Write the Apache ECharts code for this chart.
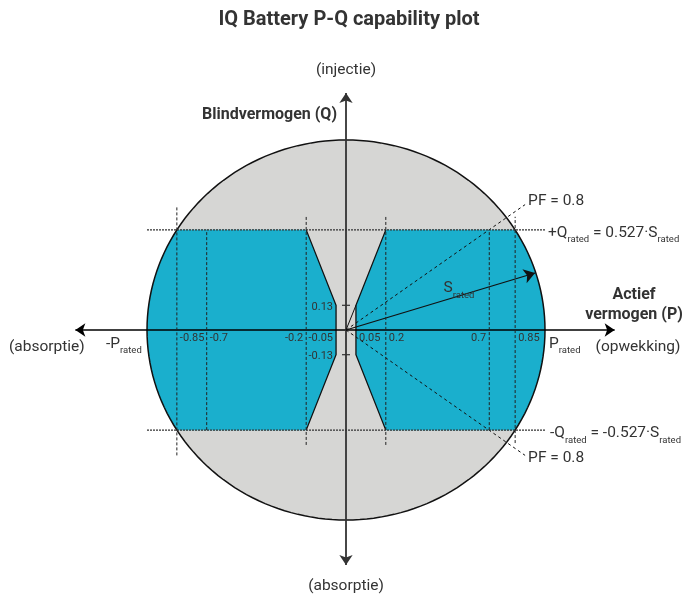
<!DOCTYPE html>
<html><head><meta charset="utf-8">
<script src="https://cdn.jsdelivr.net/npm/echarts@6/dist/echarts.min.js"></script>
<style>html,body{margin:0;padding:0;background:#fff}#c{width:686px;height:595px}</style>
</head><body><div id="c"></div>
<script>
// ---------- data (per unit of S_rated) ----------
const S_RATED = 1;
const Q_RATED = 0.527;
const INNER_P = 0.05;        // inner vertical edge of allowed region
const INNER_Q = 0.13;        // height of inner vertical edge
const DIAG_P = 0.2;          // diagonal edge reaches Q_rated here
const P_TICKS = [-0.85, -0.7, -0.2, -0.05, 0.05, 0.2, 0.72, 0.85];
const P_TICK_LABELS = ['-0.85', '-0.7', '-0.2', '-0.05', '0.05', '0.2', '0.7', '0.85'];
const P_LABEL_SIDE = ['r', 'r', 'l', 'l', 'r', 'r', 'l', 'r'];
const Q_TICKS = [0.13, -0.13];
const Q_TICK_LABELS = ['0.13', '-0.13'];
// dashed guide lines: [P, Q from, Q to]
const GUIDE_P = [-0.85, -0.7, -0.2, 0.2, 0.72, 0.85];
const GUIDE_Q_LOW = [-0.66, -0.527, -0.605, -0.605, -0.527, -0.595];
const GUIDE_Q_HIGH = [0.65, 0.527, 0.596, 0.596, 0.527, 0.596];
const QRATED_P_RANGE = [-1.0, 1.0];
const PF_END = [0.9, 0.66];
const S_ARROW_END = [0.95, 0.30];
const AXIS_P = [-1.36, 1.35];
const AXIS_Q = [-1.237, 1.247];

const BLUE = '#1aafcd', GRAY = '#d6d6d4', TXT = '#333';
const FONT = 'Roboto, "Noto Sans", sans-serif';

const chart = echarts.init(document.getElementById('c'), null, {renderer: 'canvas'});

function circlePts(api, t0, t1, n) {
  const pts = [];
  for (let i = 0; i <= n; i++) {
    const t = t0 + (t1 - t0) * i / n;
    pts.push(api.coord([S_RATED * Math.cos(t), S_RATED * Math.sin(t)]));
  }
  return pts;
}

const a0 = Math.asin(Q_RATED / S_RATED);

const option = {
  animation: false,
  backgroundColor: '#fff',
  grid: {left: 47.5, width: 597, top: 83, height: 494},
  xAxis: {type: 'value', min: -1.5, max: 1.5, show: false, splitLine: {show: false}},
  yAxis: {type: 'value', min: -1.3, max: 1.3, show: false, splitLine: {show: false}},
  series: [
    { // gray circle
      type: 'custom', z: 1, data: [[0, 0]],
      renderItem: (p, api) => ({type: 'polygon', shape: {points: circlePts(api, 0, Math.PI * 2, 180)},
        style: {fill: GRAY, stroke: null}})
    },
    { // blue allowed regions (right and left)
      type: 'custom', z: 2, data: [[1], [-1]],
      renderItem: (p, api) => {
        const s = api.value(0);
        const pts = [
          api.coord([s * INNER_P, -INNER_Q]),
          api.coord([s * INNER_P, INNER_Q]),
          api.coord([s * DIAG_P, Q_RATED])
        ];
        const arc = s > 0 ? circlePts(api, a0, -a0, 60) : circlePts(api, Math.PI - a0, Math.PI + a0, 60);
        pts.push(...arc);
        pts.push(api.coord([s * DIAG_P, -Q_RATED]));
        return {type: 'polygon', shape: {points: pts}, style: {fill: BLUE, stroke: null}};
      }
    },
    { // circle outline
      type: 'custom', z: 3, data: [[0, 0]],
      renderItem: (p, api) => ({type: 'polygon', shape: {points: circlePts(api, 0, Math.PI * 2, 180)},
        style: {fill: null, stroke: '#111', lineWidth: 1.5}})
    },
    { // inner edges of blue regions
      type: 'custom', z: 4, data: [[1], [-1]],
      renderItem: (p, api) => {
        const s = api.value(0);
        return {type: 'polyline', shape: {points: [
          api.coord([s * DIAG_P, Q_RATED]), api.coord([s * INNER_P, INNER_Q]),
          api.coord([s * INNER_P, -INNER_Q]), api.coord([s * DIAG_P, -Q_RATED])]},
          style: {fill: null, stroke: '#111', lineWidth: 1.3}};
      }
    },
    { // dashed vertical guide lines
      type: 'custom', z: 5, data: GUIDE_P.map((x, i) => [x, GUIDE_Q_LOW[i], GUIDE_Q_HIGH[i]]),
      renderItem: (p, api) => {
        const a = api.coord([api.value(0), api.value(1)]);
        const b = api.coord([api.value(0), api.value(2)]);
        return {type: 'line', shape: {x1: a[0], y1: a[1], x2: b[0], y2: b[1]},
          style: {stroke: '#222', lineWidth: 1, lineDash: [3, 2]}};
      }
    },
    { // ±Q_rated dashed lines
      type: 'custom', z: 5, data: [[Q_RATED], [-Q_RATED]],
      renderItem: (p, api) => {
        const a = api.coord([QRATED_P_RANGE[0], api.value(0)]);
        const b = api.coord([QRATED_P_RANGE[1], api.value(0)]);
        return {type: 'line', shape: {x1: a[0], y1: a[1], x2: b[0], y2: b[1]},
          style: {stroke: '#333', lineWidth: 1.2, lineDash: [2, 1]}};
      }
    },
    { // Q tick marks
      type: 'custom', z: 7, data: Q_TICKS.map(q => [0, q]),
      renderItem: (p, api) => {
        const c = api.coord([0, api.value(1)]);
        return {type: 'line', shape: {x1: c[0] - 4, y1: c[1], x2: c[0] + 4, y2: c[1]},
          style: {stroke: '#333', lineWidth: 1.2}};
      }
    },
    { // lines with arrows
      type: 'line', z: 6, data: [],
      markLine: {
        silent: true, animation: false, label: {show: false},
        data: [
          [{coord: [AXIS_P[0], 0], symbol: 'arrow', symbolSize: 10, lineStyle: {color: '#000', width: 1.5, type: 'solid'}},
           {coord: [AXIS_P[1], 0], symbol: 'arrow', symbolSize: 10}],
          [{coord: [0, AXIS_Q[0]], symbol: 'arrow', symbolSize: 10, lineStyle: {color: '#333', width: 1.8, type: 'solid'}},
           {coord: [0, AXIS_Q[1]], symbol: 'arrow', symbolSize: 10}],
          [{coord: [0, 0], symbol: 'none', lineStyle: {color: '#111', width: 1, type: [3, 3]}},
           {coord: PF_END, symbol: 'none'}],
          [{coord: [0, 0], symbol: 'none', lineStyle: {color: '#111', width: 1, type: [3, 3]}},
           {coord: [PF_END[0], -PF_END[1]], symbol: 'none'}],
          [{coord: [0, 0], symbol: 'none', lineStyle: {color: '#111', width: 1.3, type: 'solid'}},
           {coord: S_ARROW_END, symbol: 'arrow', symbolSize: 11}],
          [{coord: [0, 0], symbol: 'none', lineStyle: {color: '#111', width: 1, type: 'solid'}},
           {coord: [INNER_P, INNER_Q], symbol: 'none'}]
        ]
      }
    }
  ]
};
chart.setOption(option);

// ---------- text annotations ----------
const px = v => chart.convertToPixel({gridIndex: 0}, v);
const g = [];
function txt(x, y, text, o) {
  o = o || {};
  g.push({type: 'text', x: x, y: y, z: 100, silent: true,
    style: Object.assign({text: text, fill: TXT, fontFamily: FONT, fontSize: o.size || 15.5,
      fontWeight: o.bold ? 'bold' : 'normal', textAlign: o.align || 'left', align: o.align || 'left',
      textVerticalAlign: 'middle', verticalAlign: 'middle', rich: o.rich, lineHeight: o.lh}, {})});
}
const subRich = {
  n: {fontSize: 15.5, fontFamily: FONT, fill: TXT, color: TXT, lineHeight: 24, verticalAlign: 'middle'},
  s: {fontSize: 9.5, fontFamily: FONT, fill: TXT, color: TXT, lineHeight: 10, verticalAlign: 'bottom'}
};

txt(349, 20, 'IQ Battery P-Q capability plot', {size: 20, bold: true, align: 'center'});
txt(346, 70, '(injectie)', {align: 'center'});
txt(346, 586, '(absorptie)', {align: 'center'});
txt(337, 115, 'Blindvermogen (Q)', {size: 16, bold: true, align: 'right'});
txt(634, 305, 'Actief\nvermogen (P)', {size: 16, bold: true, align: 'center', lh: 20});
txt(638, 347, '(opwekking)', {align: 'center'});
txt(9, 347, '(absorptie)', {align: 'left'});

// tick labels on P axis
P_TICKS.forEach((p, i) => {
  const c = px([p, 0]);
  const right = P_LABEL_SIDE[i] === 'r';
  txt(c[0] + (right ? 3 : -3), c[1] + 8, P_TICK_LABELS[i], {size: 11, align: right ? 'left' : 'right'});
});
Q_TICKS.forEach((q, i) => {
  const c = px([0, q]);
  txt(c[0] - 13, c[1] + 1.5, Q_TICK_LABELS[i], {size: 11, align: 'right'});
});

const pr = px([S_RATED, 0]);
txt(pr[0] + 4, pr[1] + 14, '{n|P}{s|rated}', {rich: subRich});
const pl = px([-S_RATED, 0]);
txt(pl[0] - 41, pl[1] + 14, '{n|-P}{s|rated}', {rich: subRich});

const pf = px(PF_END);
txt(pf[0] + 3, pf[1] - 3, 'PF = 0.8');
const pf2 = px([PF_END[0], -PF_END[1]]);
txt(pf2[0] + 3, pf2[1] + 3, 'PF = 0.8');

const qr = px([QRATED_P_RANGE[1], Q_RATED]);
txt(qr[0] + 3, qr[1] + 3, '{n|+Q}{s|rated}{n| = 0.527·S}{s|rated}', {rich: subRich});
const qr2 = px([QRATED_P_RANGE[1], -Q_RATED]);
txt(qr2[0] + 5, qr2[1] + 3, '{n|-Q}{s|rated}{n| = -0.527·S}{s|rated}', {rich: subRich});

const sa = px([S_ARROW_END[0] * 0.5, S_ARROW_END[1] * 0.5]);
txt(sa[0] + 3, sa[1] - 13, '{n|S}{s|rated}', {rich: subRich});

chart.setOption({graphic: {elements: g}});
</script></body></html>
